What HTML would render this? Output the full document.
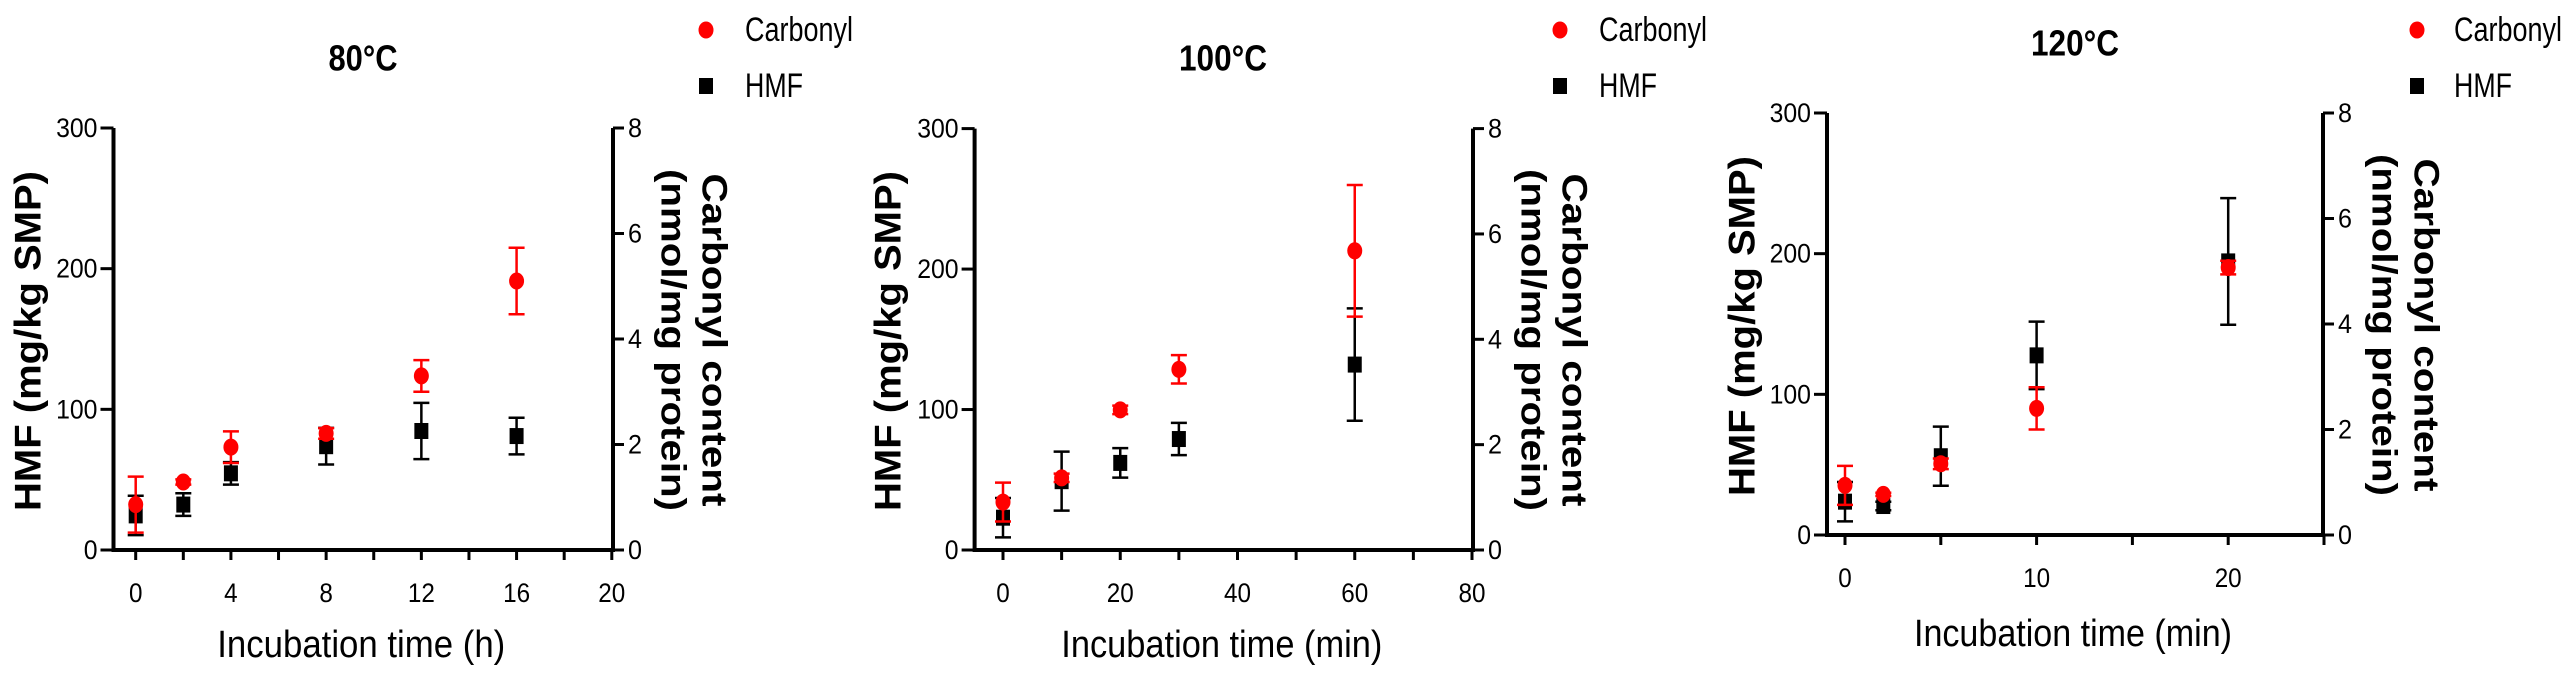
<!DOCTYPE html>
<html><head><meta charset="utf-8"><style>
html,body{margin:0;padding:0;background:#fff;}
svg{display:block;font-family:"Liberation Sans",sans-serif;}
</style></head><body>
<svg id="chart" width="2571" height="676" viewBox="0 0 2571 676" xmlns="http://www.w3.org/2000/svg"></svg>
<script>
// ---- data ----
const titles = ["80°C", "100°C", "120°C"];
const xLabels = ["Incubation time (h)", "Incubation time (min)", "Incubation time (min)"];
const xTickLabels1 = [0, 4, 8, 12, 16, 20];
const xTickLabels2 = [0, 20, 40, 60, 80];
const xTickLabels3 = [0, 10, 20];
const leftTickLabels = [0, 100, 200, 300];
const rightTickLabels = [0, 2, 4, 6, 8];
const time1 = [0, 2, 4, 8, 12, 16];
const hmf1 = [24.6, 32.3, 54.5, 73.8, 84.6, 81];
const hmfErr1 = [14, 8, 8, 13, 20, 13];
const carb1 = [0.86, 1.29, 1.95, 2.21, 3.3, 5.1];
const carbErr1 = [0.53, 0.05, 0.3, 0.1, 0.3, 0.63];
const time2 = [0, 10, 20, 30, 60];
const hmf2 = [23, 49, 62, 79, 132];
const hmfErr2 = [14, 21, 10.5, 11.5, 40];
const carb2 = [0.91, 1.37, 2.66, 3.43, 5.68];
const carbErr2 = [0.37, 0.08, 0.08, 0.27, 1.25];
const time3 = [0, 2, 5, 10, 20];
const hmf3 = [23.7, 20.6, 56, 127.7, 194.5];
const hmfErr3 = [14, 3, 21, 24, 45];
const carb3 = [0.94, 0.77, 1.35, 2.4, 5.07];
const carbErr3 = [0.37, 0.03, 0.1, 0.4, 0.13];

// ---- layout ----
const NS = "http://www.w3.org/2000/svg";
const svg = document.getElementById("chart");
function el(tag, attrs, parent) {
  const e = document.createElementNS(NS, tag);
  for (const k in attrs) e.setAttribute(k, attrs[k]);
  (parent || svg).appendChild(e);
  return e;
}
const panels = [
  {axL:113.5, axR:613, x0:135.7, xMax:20, x1:611.8, yTop:128, yBot:550, xStep:2, xLabelTicks:xTickLabels1,
   titleX:363, titleY:58, xlabY:645, xlabW:288, tickY:593, legDot:706, legText:745, lTitleX:28, rTitle1:714, rTitle2:673, rMid:340,
   time:time1, hmf:hmf1, hmfErr:hmfErr1, carb:carb1, carbErr:carbErr1},
  {axL:974.6, axR:1473, x0:1003, xMax:80, x1:1472, yTop:128.6, yBot:550, xStep:10, xLabelTicks:xTickLabels2,
   titleX:1223, titleY:58, xlabY:645, xlabW:321, tickY:593, legDot:1560, legText:1599, lTitleX:888, rTitle1:1574, rTitle2:1533, rMid:340,
   time:time2, hmf:hmf2, hmfErr:hmfErr2, carb:carb2, carbErr:carbErr2},
  {axL:1827, axR:2323, x0:1845, xMax:25, x1:2324, yTop:113, yBot:535, xStep:5, xLabelTicks:xTickLabels3,
   titleX:2075, titleY:43, xlabY:634, xlabW:318, tickY:578, legDot:2417, legText:2454, lTitleX:1742, rTitle1:2426, rTitle2:2384, rMid:325,
   time:time3, hmf:hmf3, hmfErr:hmfErr3, carb:carb3, carbErr:carbErr3}
];

panels.forEach((p, i) => {
  const g = el("g", {});
  
  
  const xs = v => p.x0 + (v / p.xMax) * (p.x1 - p.x0);
  const yl = v => p.yBot - (v / 300) * (p.yBot - p.yTop);
  const yr = v => p.yBot - (v / 8) * (p.yBot - p.yTop);

  // title
  const t = el("text", {x:p.titleX, y:p.titleY, "text-anchor":"middle", "dominant-baseline":"central",
    "font-size":36, "font-weight":"bold", textLength: titles[i]==="80°C"?69:88, lengthAdjust:"spacingAndGlyphs"}, g);
  t.textContent = titles[i];
  
  

  // axes
  const axes = el("path", {d:`M${p.axL},${p.yTop} V${p.yBot} H${p.axR} V${p.yTop}`, fill:"none", stroke:"#000", "stroke-width":4}, g);
  
  

  // x ticks
  for (let v = 0; v <= p.xMax + 1e-9; v += p.xStep) {
    const x = xs(v);
    const tk = el("line", {x1:x, x2:x, y1:p.yBot, y2:p.yBot + 10, stroke:"#000", "stroke-width":3}, g);
    
    
  }
  p.xLabelTicks.forEach(v => {
    const s = String(v);
    const lb = el("text", {x:xs(v), y:p.tickY, "text-anchor":"middle", "dominant-baseline":"central", "font-size":27,
      textLength: s.length * 13.5, lengthAdjust:"spacingAndGlyphs"}, g);
    lb.textContent = s;
    
    
  });
  // left ticks
  leftTickLabels.forEach(v => {
    const y = yl(v);
    const tk = el("line", {x1:p.axL - 13, x2:p.axL, y1:y, y2:y, stroke:"#000", "stroke-width":3}, g);
    
    
    const s = String(v);
    const lb = el("text", {x:p.axL - 16, y:y, "text-anchor":"end", "dominant-baseline":"central", "font-size":27,
      textLength: s.length * 13.8, lengthAdjust:"spacingAndGlyphs"}, g);
    lb.textContent = s;
    
    
  });
  // right ticks
  rightTickLabels.forEach(v => {
    const y = yr(v);
    const tk = el("line", {x1:p.axR, x2:p.axR + 11, y1:y, y2:y, stroke:"#000", "stroke-width":3}, g);
    
    
    const lb = el("text", {x:p.axR + 15, y:y, "text-anchor":"start", "dominant-baseline":"central", "font-size":27,
      textLength:14, lengthAdjust:"spacingAndGlyphs"}, g);
    lb.textContent = String(v);
    
    
  });
  // axis titles
  const xl = el("text", {x:(p.axL + p.axR) / 2 - 2, y:p.xlabY, "text-anchor":"middle", "dominant-baseline":"central",
    "font-size":38, textLength:p.xlabW, lengthAdjust:"spacingAndGlyphs"}, g);
  xl.textContent = xLabels[i];
  
  
  const lt = el("text", {x:0, y:0, "text-anchor":"middle", "dominant-baseline":"central", "font-size":37, "font-weight":"bold",
    textLength:340, lengthAdjust:"spacingAndGlyphs", transform:`translate(${p.lTitleX},${p.rMid + 1}) rotate(-90)`}, g);
  lt.textContent = "HMF (mg/kg SMP)";
  
  
  const rt1 = el("text", {x:0, y:0, "text-anchor":"middle", "dominant-baseline":"central", "font-size":35, "font-weight":"bold",
    textLength:333, lengthAdjust:"spacingAndGlyphs", transform:`translate(${p.rTitle1},${p.rMid}) rotate(90)`}, g);
  rt1.textContent = "Carbonyl content";
  
  
  const rt2 = el("text", {x:0, y:0, "text-anchor":"middle", "dominant-baseline":"central", "font-size":35, "font-weight":"bold",
    textLength:342, lengthAdjust:"spacingAndGlyphs", transform:`translate(${p.rTitle2},${p.rMid}) rotate(90)`}, g);
  rt2.textContent = "(nmol/mg protein)";
  
  

  // legend
  const ld = el("ellipse", {cx:p.legDot, cy:30, rx:7.5, ry:8.5, fill:"#f00"}, g);
  
  
  const lct = el("text", {x:p.legText, y:30, "dominant-baseline":"central", "font-size":34, textLength:108, lengthAdjust:"spacingAndGlyphs"}, g);
  lct.textContent = "Carbonyl";
  
  
  const ls = el("rect", {x:p.legDot - 7, y:78, width:14, height:16, fill:"#000"}, g);
  
  
  const lht = el("text", {x:p.legText, y:86, "dominant-baseline":"central", "font-size":34, textLength:58, lengthAdjust:"spacingAndGlyphs"}, g);
  lht.textContent = "HMF";
  
  

  // HMF series
  p.time.forEach((tv, k) => {
    const x = xs(tv), y = yl(p.hmf[k]), yt = yl(p.hmf[k] + p.hmfErr[k]), yb = yl(p.hmf[k] - p.hmfErr[k]);
    const eb = el("path", {d:`M${x},${yt} V${yb} M${x-8},${yt} H${x+8} M${x-8},${yb} H${x+8}`, stroke:"#000", "stroke-width":2.5, fill:"none"}, g);
    
    
    const m = el("rect", {x:x - 7, y:y - 8, width:14, height:16, fill:"#000"}, g);
    
    
  });
  // Carbonyl series
  p.time.forEach((tv, k) => {
    const x = xs(tv), y = yr(p.carb[k]), yt = yr(p.carb[k] + p.carbErr[k]), yb = yr(p.carb[k] - p.carbErr[k]);
    const eb = el("path", {d:`M${x},${yt} V${yb} M${x-8},${yt} H${x+8} M${x-8},${yb} H${x+8}`, stroke:"#f00", "stroke-width":2.5, fill:"none"}, g);
    
    
    const m = el("ellipse", {cx:x, cy:y, rx:7.5, ry:8.5, fill:"#f00"}, g);
    
    
  });
});
</script>
</body></html>
